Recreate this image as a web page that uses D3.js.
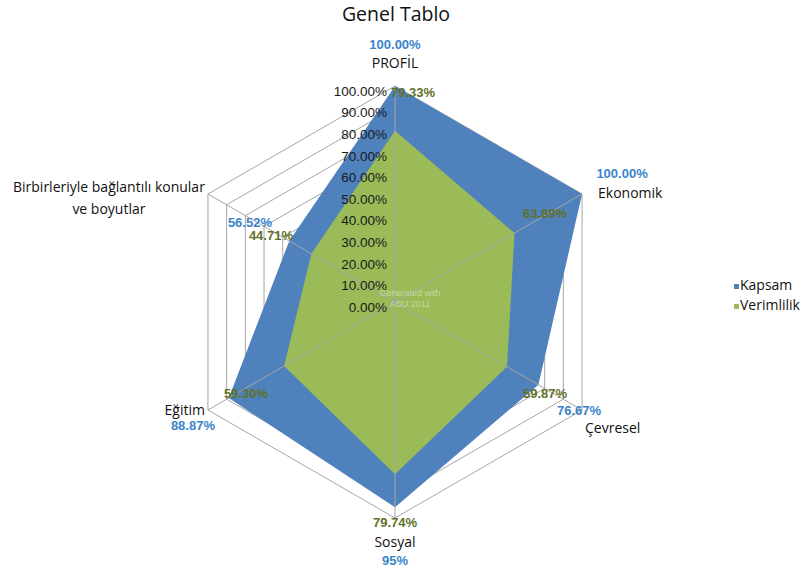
<!DOCTYPE html>
<html>
<head>
<meta charset="utf-8">
<script src="https://cdn.jsdelivr.net/npm/d3@7"></script>
<style>
  html, body { margin: 0; padding: 0; background: #fff; }
  svg { display: block; }
</style>
</head>
<body>
<svg id="chart" width="811" height="567"></svg>
<script>
// Radar chart data: one value per axis, in percent
const categories = ["PROFİL", "Ekonomik", "Çevresel", "Sosyal", "Eğitim", "Birbirleriyle bağlantılı konular\nve boyutlar"];
const seriesNames = ["Kapsam", "Verimlilik"];
const kapsam = [100, 100, 76.67, 95, 88.87, 56.52];
const verimlilik = [79.33, 63.89, 59.87, 79.74, 59.30, 44.71];
const kapsamLabels = ["100.00%", "100.00%", "76.67%", "95%", "88.87%", "56.52%"];
const verimlilikLabels = ["79.33%", "63.89%", "59.87%", "79.74%", "59.30%", "44.71%"];
const tickValues = [0, 10, 20, 30, 40, 50, 60, 70, 80, 90, 100];

// Layout
const cx = 395, cy = 302, R = 216;
const colors = { Kapsam: "#4f81bd", Verimlilik: "#9bbb59" };
const labelColors = { Kapsam: "#3b84cc", Verimlilik: "#5e7128" };

// label offsets relative to each axis' outer end (pixels)
const catOffsets = [
  { dx: 0, dy: -23, anchor: "middle" },
  { dx: 16, dy: -1, anchor: "start" },
  { dx: 3, dy: 18, anchor: "start" },
  { dx: 0, dy: 24, anchor: "middle" },
  { dx: -3, dy: 0, anchor: "end" },
  { dx: -99, dy: -7, anchor: "middle" }
];
const kapsamOffsets = [
  { dx: 0, dy: -42 }, { dx: 40, dy: -21 }, { dx: -3, dy: 0 },
  { dx: 0, dy: 42 }, { dx: -15, dy: 15 }, { dx: 42, dy: 28 }
];
const verimOffsets = [
  { dx: 18, dy: 6 }, { dx: -37, dy: 19 }, { dx: -37, dy: -17 },
  { dx: 0, dy: 4 }, { dx: 38, dy: -17 }, { dx: 63, dy: 41 }
];

const svg = d3.select("#chart");
const r = d3.scaleLinear().domain([0, 100]).range([0, R]);
const n = categories.length;
const angle = i => i * 2 * Math.PI / n;
const pt = (i, v) => [cx + r(v) * Math.sin(angle(i)), cy - r(v) * Math.cos(angle(i))];

const g = svg.append("g");

// Title
svg.append("text")
  .attr("x", 396).attr("y", 21)
  .attr("text-anchor", "middle")
  .attr("font-family", "'Open Sans', sans-serif")
  .attr("font-size", 19.5)
  .attr("fill", "#111")
  .text("Genel Tablo");

// Hexagonal grid rings
const ring = d3.lineRadial()
  .angle((d, i) => angle(i))
  .radius(d => r(d))
  .curve(d3.curveLinearClosed);

g.selectAll("path.ring")
  .data(tickValues.filter(t => t > 0))
  .join("path")
  .attr("class", "ring")
  .attr("transform", `translate(${cx},${cy})`)
  .attr("d", t => ring(d3.range(n).map(() => t)))
  .attr("fill", "none")
  .attr("stroke", "#a6a6a6")
  .attr("stroke-width", 1);

// Series polygons
const series = [
  { name: "Kapsam", values: kapsam },
  { name: "Verimlilik", values: verimlilik }
];
const area = d3.lineRadial()
  .angle((d, i) => angle(i))
  .radius(d => r(d))
  .curve(d3.curveLinearClosed);

g.selectAll("path.series")
  .data(series)
  .join("path")
  .attr("class", "series")
  .attr("transform", `translate(${cx},${cy})`)
  .attr("d", s => area(s.values))
  .attr("fill", s => colors[s.name])
  .attr("stroke", "none");

// Spokes on top of the fills
g.selectAll("line.spoke")
  .data(d3.range(n))
  .join("line")
  .attr("class", "spoke")
  .attr("x1", cx).attr("y1", cy)
  .attr("x2", i => pt(i, 100)[0])
  .attr("y2", i => pt(i, 100)[1])
  .attr("stroke", "#a6a6a6")
  .attr("stroke-width", 1);

// Faint watermark near the center
const wm = g.append("text")
  .attr("x", 410).attr("y", 296)
  .attr("text-anchor", "middle")
  .attr("font-family", "'Liberation Sans', Arial, sans-serif")
  .attr("font-size", 9)
  .attr("fill", "#ffffff")
  .attr("fill-opacity", 0.45);
wm.append("tspan").attr("x", 410).attr("dy", 0).text("Generated with");
wm.append("tspan").attr("x", 410).attr("dy", 11).text("ASU 2011");

// Radial axis tick labels
g.selectAll("text.tick")
  .data(tickValues)
  .join("text")
  .attr("class", "tick")
  .attr("x", cx - 8)
  .attr("y", t => cy - r(t) + 5)
  .attr("dy", "0.35em")
  .attr("text-anchor", "end")
  .attr("font-family", "'Liberation Sans', Arial, sans-serif")
  .attr("font-size", 13.5)
  .attr("fill", "#1a1a1a")
  .text(t => t.toFixed(2) + "%");

// Category labels
categories.forEach((c, i) => {
  const [x, y] = pt(i, 100);
  const o = catOffsets[i];
  const t = g.append("text")
    .attr("text-anchor", o.anchor)
    .attr("font-family", "'Open Sans', sans-serif")
    .attr("font-size", 14)
    .attr("fill", "#111");
  c.split("\n").forEach((line, k) => {
    t.append("tspan")
      .attr("x", x + o.dx)
      .attr("y", y + o.dy + k * 22)
      .attr("dy", "0.35em")
      .text(line);
  });
});

// Data labels
function drawValueLabels(labels, offsets, name) {
  labels.forEach((lab, i) => {
    const [x, y] = pt(i, 100);
    g.append("text")
      .attr("x", x + offsets[i].dx)
      .attr("y", y + offsets[i].dy)
      .attr("dy", "0.35em")
      .attr("text-anchor", "middle")
      .attr("font-family", "'Liberation Sans', Arial, sans-serif")
      .attr("font-size", 13)
      .attr("font-weight", "bold")
      .attr("fill", labelColors[name])
      .text(lab);
  });
}
drawValueLabels(verimlilikLabels, verimOffsets, "Verimlilik");
drawValueLabels(kapsamLabels, kapsamOffsets, "Kapsam");

// Legend
const legend = svg.append("g").attr("transform", "translate(734,285)");
seriesNames.forEach((s, k) => {
  const row = legend.append("g").attr("transform", `translate(0,${k * 20})`);
  row.append("rect")
    .attr("x", 0).attr("y", -1)
    .attr("width", 5).attr("height", 5)
    .attr("fill", colors[s]);
  row.append("text")
    .attr("x", 6).attr("y", 0)
    .attr("dy", "0.35em")
    .attr("font-family", "'Open Sans', sans-serif")
    .attr("font-size", 14)
    .attr("fill", "#111")
    .text(s);
});
</script>
</body>
</html>
